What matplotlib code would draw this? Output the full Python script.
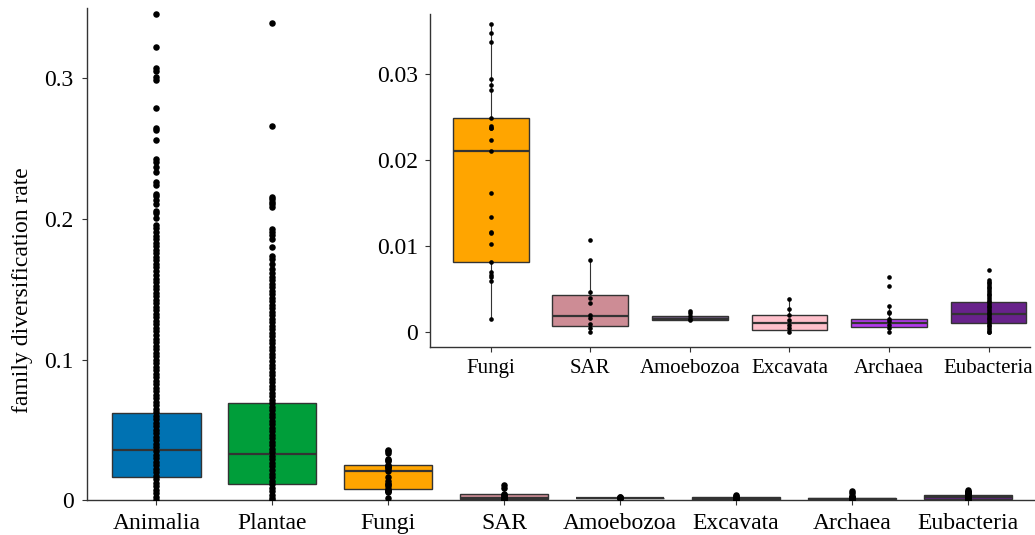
import matplotlib
matplotlib.use("Agg")
import matplotlib.pyplot as plt

plt.rcParams["font.family"] = ["Liberation Serif", "DejaVu Serif"]

# main panel categories and box stats
groups = ["Animalia", "Plantae", "Fungi", "SAR", "Amoebozoa", "Excavata", "Archaea", "Eubacteria"]
colors = ["#0072B2", "#009E3A", "#FFA500", "#CD8C95", "#6E5A7E", "#FFC0CB", "#B23AEE", "#68228B"]
q1 = [0.0168, 0.0114, 0.0082, 0.0007, 0.0014, 0.0003, 0.0006, 0.0011]
med = [0.0360, 0.0326, 0.0211, 0.0019, 0.0016, 0.0011, 0.0011, 0.0021]
q3 = [0.0620, 0.0693, 0.0249, 0.0044, 0.0019, 0.0020, 0.0016, 0.0035]
whis_lo = [0.0, 0.0, 0.0016, 0.0, 0.0014, 0.0, 0.0, 0.0]
whis_hi = [0.130, 0.156, 0.0358, 0.0084, 0.0025, 0.0039, 0.0031, 0.0061]

# individual family rates (estimated from the dots)
animalia_pts = [0.346, 0.3226, 0.3075, 0.305, 0.301, 0.299, 0.279, 0.265, 0.2635, 0.256,
                0.2425, 0.2405, 0.237, 0.2335, 0.226, 0.2245, 0.218, 0.216, 0.2135, 0.2105,
                0.206, 0.204, 0.2007, 0.196, 0.1935, 0.191, 0.188, 0.186, 0.183, 0.181,
                0.178, 0.176, 0.173, 0.171, 0.168, 0.166, 0.163, 0.160, 0.1575, 0.155,
                0.1525, 0.150, 0.1475, 0.145, 0.1425, 0.140, 0.1375, 0.135, 0.1325, 0.130,
                0.1275, 0.125, 0.1225, 0.120, 0.1175, 0.115, 0.1125, 0.110, 0.1075, 0.105,
                0.1025, 0.100, 0.0975, 0.095, 0.0925, 0.090, 0.0875, 0.085, 0.0825, 0.080,
                0.0775, 0.075, 0.0725, 0.070, 0.0675, 0.065, 0.0625, 0.060, 0.0575, 0.055,
                0.0525, 0.050, 0.0475, 0.045, 0.0425, 0.040, 0.0375, 0.035, 0.0325, 0.030,
                0.0275, 0.025, 0.0225, 0.020, 0.0175, 0.015, 0.0125, 0.010, 0.0075, 0.005,
                0.0025, 0.0]
plantae_pts = [0.3394, 0.266, 0.2158, 0.214, 0.2122, 0.2105, 0.2085, 0.1927, 0.1905, 0.1886,
               0.1861, 0.180, 0.174, 0.1715, 0.168, 0.1642, 0.1618, 0.159, 0.1565, 0.154,
               0.1515, 0.149, 0.1465, 0.144, 0.1415, 0.139, 0.1365, 0.134, 0.1315, 0.129,
               0.1265, 0.124, 0.1215, 0.119, 0.1165, 0.114, 0.1115, 0.109, 0.1065, 0.104,
               0.1015, 0.099, 0.0965, 0.094, 0.0915, 0.089, 0.0865, 0.084, 0.0815, 0.079,
               0.0765, 0.074, 0.0715, 0.069, 0.0665, 0.064, 0.0615, 0.059, 0.0565, 0.054,
               0.0515, 0.049, 0.0465, 0.044, 0.0415, 0.039, 0.0365, 0.034, 0.0315, 0.029,
               0.0265, 0.024, 0.0215, 0.019, 0.0165, 0.014, 0.0115, 0.009, 0.0065, 0.004,
               0.0015, 0.0]
fungi_pts = [0.0358, 0.0348, 0.0338, 0.0294, 0.0287, 0.0282, 0.0249, 0.0240, 0.0238, 0.0237,
             0.0223, 0.0211, 0.0162, 0.0134, 0.0117, 0.0115, 0.0103, 0.0082, 0.0070, 0.0067,
             0.0064, 0.0060, 0.0016]
sar_pts = [0.0107, 0.0084, 0.0047, 0.0040, 0.0034, 0.0020, 0.0017, 0.0010, 0.0005, 0.0]
amoebozoa_pts = [0.0025, 0.0022, 0.0019, 0.0016, 0.0014]
excavata_pts = [0.0039, 0.0027, 0.0020, 0.0014, 0.0009, 0.0005, 0.0]
archaea_pts = [0.0064, 0.0054, 0.0031, 0.0024, 0.0022, 0.0016, 0.0013, 0.0009, 0.0005, 0.0]
eubacteria_pts = [0.0072, 0.0061, 0.0059, 0.0057, 0.0055, 0.0053, 0.0051, 0.0049, 0.0047,
                  0.0045, 0.0043, 0.0041, 0.0039, 0.0037, 0.0035, 0.0033, 0.0031, 0.0029,
                  0.0027, 0.0025, 0.0023, 0.0021, 0.0019, 0.0017, 0.0015, 0.0013, 0.0011,
                  0.0009, 0.0007, 0.0005, 0.0003, 0.0001, 0.0]
points = [animalia_pts, plantae_pts, fungi_pts, sar_pts, amoebozoa_pts,
          excavata_pts, archaea_pts, eubacteria_pts]

main_yticks = [0, 0.1, 0.2, 0.3]
main_ylabels = ["0", "0.1", "0.2", "0.3"]
inset_yticks = [0, 0.01, 0.02, 0.03]
inset_ylabels = ["0", "0.01", "0.02", "0.03"]

EDGE = "#333333"


def draw_boxes(ax, idx, dot_size):
    stats = []
    for i in idx:
        stats.append({"med": med[i], "q1": q1[i], "q3": q3[i],
                      "whislo": whis_lo[i], "whishi": whis_hi[i], "fliers": []})
    pos = list(range(len(idx)))
    bp = ax.bxp(stats, positions=pos, widths=0.76, patch_artist=True,
                showfliers=False, showcaps=False,
                boxprops=dict(edgecolor=EDGE, linewidth=1.0),
                medianprops=dict(color=EDGE, linewidth=1.6),
                whiskerprops=dict(color=EDGE, linewidth=0.8),
                zorder=2)
    for patch, i in zip(bp["boxes"], idx):
        patch.set_facecolor(colors[i])
    for p, i in zip(pos, idx):
        ax.scatter([p] * len(points[i]), points[i], s=dot_size, color="black",
                   linewidths=0, zorder=3)
    ax.set_xticks(pos)
    ax.set_xticklabels([groups[i] for i in idx])


def style_axes(ax, xsize, ysize, xpad, ypad):
    for side in ["top", "right"]:
        ax.spines[side].set_visible(False)
    for side in ["left", "bottom"]:
        ax.spines[side].set_color(EDGE)
        ax.spines[side].set_linewidth(1.0)
    ax.tick_params(direction="out", length=3.5, width=0.8, color=EDGE, labelcolor="black")
    ax.tick_params(axis="x", labelsize=xsize, pad=xpad)
    ax.tick_params(axis="y", labelsize=ysize, pad=ypad)


fig = plt.figure(figsize=(10.35, 5.35), dpi=100)

ax = fig.add_axes([0.084, 0.065, 0.916, 0.92])
draw_boxes(ax, list(range(8)), 22)
ax.set_xlim(-0.6, 7.58)
ax.set_ylim(0, 0.35)
ax.set_yticks(main_yticks)
ax.set_yticklabels(main_ylabels)
ax.set_ylabel("family diversification rate", fontsize=17)
ax.yaxis.set_label_coords(-0.057, 0.427)
style_axes(ax, 17, 17, 6, 6)

inset = fig.add_axes([0.4155, 0.3514, 0.58, 0.6224])
draw_boxes(inset, [2, 3, 4, 5, 6, 7], 11)
inset.set_xlim(-0.61, 5.42)
inset.set_ylim(-0.0017, 0.037)
inset.set_yticks(inset_yticks)
inset.set_yticklabels(inset_ylabels)
style_axes(inset, 15, 17, 5, 5)
inset.patch.set_alpha(0)

fig.savefig("out.png", dpi=100)
